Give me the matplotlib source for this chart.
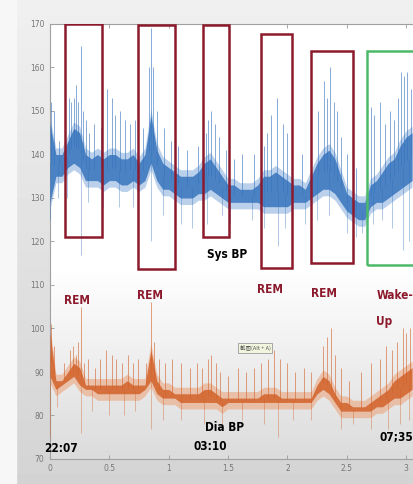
import numpy as np
import matplotlib.pyplot as plt
from matplotlib.patches import Rectangle

# time axis (hours since start) and band limits
t = np.round(np.arange(0, 3.051, 0.05), 2)

sys_lo = [128, 134, 134, 136, 137, 136, 133, 133, 133, 132, 133, 133, 132, 132, 133, 132,
          133, 137, 133, 131, 131, 130, 129, 129, 129, 130, 130, 131, 130, 129, 128, 128,
          128, 128, 128, 128, 127, 127, 127, 127, 127, 128, 128, 128, 129, 130, 131, 131,
          130, 128, 126, 125, 124, 124, 127, 128, 128, 129, 130, 131, 132, 133]
sys_hi = [148, 141, 141, 144, 147, 146, 141, 140, 141, 140, 141, 141, 140, 140, 141, 139,
          141, 150, 142, 139, 138, 137, 136, 136, 136, 137, 139, 140, 138, 136, 134, 134,
          133, 133, 133, 134, 136, 136, 137, 136, 135, 134, 134, 133, 136, 139, 141, 142,
          140, 136, 132, 131, 130, 130, 134, 135, 137, 139, 140, 143, 145, 146]

dia_lo = [88, 85, 86, 87, 88, 86, 85, 85, 84, 84, 84, 84, 84, 84, 84, 84,
          85, 87, 84, 83, 83, 83, 82, 82, 82, 82, 82, 82, 82, 81, 82, 82,
          82, 82, 82, 82, 82, 82, 82, 82, 82, 82, 82, 82, 82, 84, 85, 84,
          82, 80, 80, 80, 80, 80, 80, 81, 81, 82, 83, 83, 84, 85]
dia_hi = [100, 89, 89, 91, 93, 92, 88, 88, 88, 88, 88, 88, 88, 89, 88, 88,
          88, 96, 89, 87, 87, 86, 86, 86, 86, 86, 87, 87, 86, 85, 85, 85,
          85, 85, 85, 85, 86, 86, 86, 85, 85, 85, 85, 85, 85, 88, 90, 89,
          86, 84, 84, 83, 83, 83, 84, 85, 86, 87, 89, 90, 91, 92]

# single-beat excursions (time, value)
sys_spk_t = [0.01, 0.03, 0.08, 0.13, 0.16, 0.18, 0.20, 0.22, 0.235, 0.26, 0.28, 0.30, 0.33, 0.37,
             0.43, 0.48, 0.52, 0.55, 0.59, 0.63, 0.67, 0.72, 0.78, 0.83, 0.85, 0.87, 0.90, 0.96,
             1.02, 1.08, 1.15, 1.25, 1.31, 1.33, 1.36, 1.39, 1.42, 1.48, 1.55, 1.62, 1.72, 1.80,
             1.83, 1.86, 1.91, 1.96, 2.00, 2.12, 2.20, 2.26, 2.31, 2.33, 2.36, 2.39, 2.42, 2.45,
             2.50, 2.58, 2.70, 2.73, 2.78, 2.82, 2.86, 2.90, 2.93, 2.96, 2.98, 3.01, 3.04]
sys_spk_v = [152, 150, 143, 146, 153, 152, 153, 156, 152, 165, 150, 148, 145, 147,
             146, 155, 153, 149, 150, 148, 147, 148, 146, 160, 169, 160, 150, 146,
             143, 142, 141, 142, 145, 148, 150, 147, 144, 141, 139, 140, 140, 142,
             145, 149, 153, 147, 145, 140, 143, 150, 157, 153, 160, 152, 150, 144,
             140, 137, 151, 149, 152, 147, 150, 148, 153, 159, 158, 159, 155]
sys_dip_t = [0.00, 0.07, 0.14, 0.26, 0.32, 0.45, 0.58, 0.70, 0.85, 0.95, 1.10, 1.20, 1.32, 1.45,
             1.52, 1.70, 1.80, 1.92, 1.98, 2.15, 2.25, 2.35, 2.50, 2.58, 2.63, 2.72, 2.80, 2.88,
             2.97, 3.02]
sys_dip_v = [125, 130, 130, 117, 129, 128, 128, 128, 120, 126, 124, 123, 124, 126,
             124, 125, 123, 119, 123, 124, 125, 126, 122, 121, 122, 124, 125, 123,
             118, 120]

dia_spk_t = [0.01, 0.03, 0.12, 0.17, 0.19, 0.22, 0.24, 0.26, 0.29, 0.32, 0.38, 0.42, 0.47, 0.52,
             0.56, 0.61, 0.66, 0.70, 0.74, 0.81, 0.85, 0.88, 0.92, 0.97, 1.03, 1.10, 1.18, 1.24,
             1.28, 1.33, 1.36, 1.40, 1.43, 1.50, 1.58, 1.65, 1.72, 1.78, 1.84, 1.89, 1.94, 2.00,
             2.06, 2.14, 2.20, 2.30, 2.33, 2.37, 2.40, 2.45, 2.52, 2.62, 2.70, 2.78, 2.83, 2.88,
             2.92, 2.97, 3.00, 3.03]
dia_spk_v = [101, 96, 92, 95, 96, 94, 97, 105, 92, 93, 91, 93, 95, 94,
             93, 92, 94, 92, 93, 92, 106, 97, 93, 92, 93, 92, 91, 92,
             91, 93, 94, 92, 90, 89, 91, 90, 91, 92, 93, 95, 93, 92,
             90, 91, 90, 96, 98, 100, 94, 91, 88, 90, 92, 93, 96, 95,
             97, 100, 99, 100]
dia_dip_t = [0.00, 0.06, 0.26, 0.35, 0.50, 0.62, 0.72, 0.85, 0.95, 1.10, 1.30, 1.45, 1.62, 1.80,
             1.92, 2.05, 2.20, 2.45, 2.55, 2.70, 2.85, 2.95, 3.02]
dia_dip_v = [75, 82, 76, 81, 80, 80, 81, 77, 79, 79, 78, 78, 79, 78,
             75, 79, 79, 77, 78, 77, 77, 78, 79]

# sleep stage boxes: (start, end, bottom, top)
rem_boxes = [(0.125, 0.435, 121, 170), (0.744, 1.053, 113.7, 169.8), (1.286, 1.505, 121, 169.8),
             (1.778, 2.041, 114, 167.7), (2.196, 2.555, 115, 163.8)]
wake_box = (2.668, 3.2, 114.6, 163.8)

rem_x = [0.23, 0.84, 1.85, 2.31]
rem_y = [106.5, 107.7, 108.9, 108.0]

fig = plt.figure(figsize=(4.14, 4.84), dpi=100)

# photographed-screen background
bg = fig.add_axes([0, 0, 1, 1], zorder=-2)
bg.imshow(np.linspace(0.94, 0.83, 100).reshape(-1, 1), cmap='gray', vmin=0, vmax=1,
          aspect='auto', extent=[0, 1, 0, 1])
bg.add_patch(Rectangle((0, 0), 16 / 414, 1, color='#f7f7f7'))
bg.set_xlim(0, 1)
bg.set_ylim(0, 1)
bg.axis('off')

ax = fig.add_axes([50 / 414, 25 / 484, 368 / 414, 435 / 484])
ax.set_facecolor('none')
ax.imshow(np.concatenate([np.ones(55), np.linspace(1, 0.86, 45)]).reshape(-1, 1),
          cmap='gray', vmin=0, vmax=1, aspect='auto', extent=[0, 1, 0, 1],
          transform=ax.transAxes, zorder=0)

blue, blue_l = '#3674bd', '#8fb3de'
orange, orange_l = '#d2622a', '#eba57e'

for lo, hi, sk_t, sk_v, dp_t, dp_v, c, cl in [
        (sys_lo, sys_hi, sys_spk_t, sys_spk_v, sys_dip_t, sys_dip_v, blue, blue_l),
        (dia_lo, dia_hi, dia_spk_t, dia_spk_v, dia_dip_t, dia_dip_v, orange, orange_l)]:
    lo = np.array(lo)
    hi = np.array(hi)
    ax.fill_between(t, lo - 0.5, hi + 0.5, color=cl, alpha=0.6, lw=0, zorder=2)
    ax.fill_between(t, lo + 1, hi - 1, color=c, alpha=0.85, lw=0, zorder=3)
    base = np.interp(sk_t, t, (lo + hi) / 2)
    ax.vlines(sk_t, base, sk_v, color=c, lw=0.7, alpha=0.6, zorder=3)
    base = np.interp(dp_t, t, (lo + hi) / 2)
    ax.vlines(dp_t, dp_v, base, color=c, lw=0.6, alpha=0.45, zorder=3)

red = '#8c1a2c'
for x0, x1, y0, y1 in rem_boxes:
    ax.add_patch(Rectangle((x0, y0), x1 - x0, y1 - y0, fill=False, ec=red, lw=1.8, zorder=4))
x0, x1, y0, y1 = wake_box
ax.add_patch(Rectangle((x0, y0), x1 - x0, y1 - y0, fill=False, ec='#4cb96a', lw=1.8, zorder=4))

lab = dict(fontsize=8.5, fontweight='bold', family='DejaVu Sans', fontstretch='condensed',
           va='center', zorder=5)
for x, y in zip(rem_x, rem_y):
    ax.text(x, y, 'REM', color=red, ha='center', **lab)
ax.text(2.75, 107.5, 'Wake-', color=red, ha='left', **lab)
ax.text(2.75, 101.5, 'Up', color=red, ha='left', **lab)
ax.text(1.49, 116.9, 'Sys BP', color='black', ha='center', **lab)
ax.text(1.47, 77.3, 'Dia BP', color='black', ha='center', **lab)
ax.text(1.35, 72.8, '03:10', color='black', ha='center', **lab)
ax.text(0.09, 72.3, '22:07', color='black', ha='center', **lab)
ax.text(2.92, 75.0, '07;35', color='black', ha='center', **lab)
ax.text(1.73, 95.5, '截图(Alt + A)', color='#555555', fontsize=4,
        family=['Noto Sans CJK SC', 'DejaVu Sans'], ha='center', va='center', zorder=5,
        bbox=dict(boxstyle='square,pad=0.3', fc='#f3f6df', ec='#9a9a9a', lw=0.6))

ax.set_xlim(0, 3.1)
ax.set_ylim(70, 170)
ax.set_xticks([0, 0.5, 1, 1.5, 2, 2.5, 3])
ax.set_xticklabels(['0', '0.5', '1', '1.5', '2', '2.5', '3'])
ax.set_yticks(range(70, 171, 10))
ax.tick_params(axis='both', direction='in', labelsize=5.5, labelcolor='#777777',
               color='#999999', width=0.6, length=3, top=True)
ax.tick_params(axis='y', pad=4)
for s in ax.spines.values():
    s.set_color('#a0a0a0')
    s.set_linewidth(0.8)

fig.savefig('out.png', dpi=100)
